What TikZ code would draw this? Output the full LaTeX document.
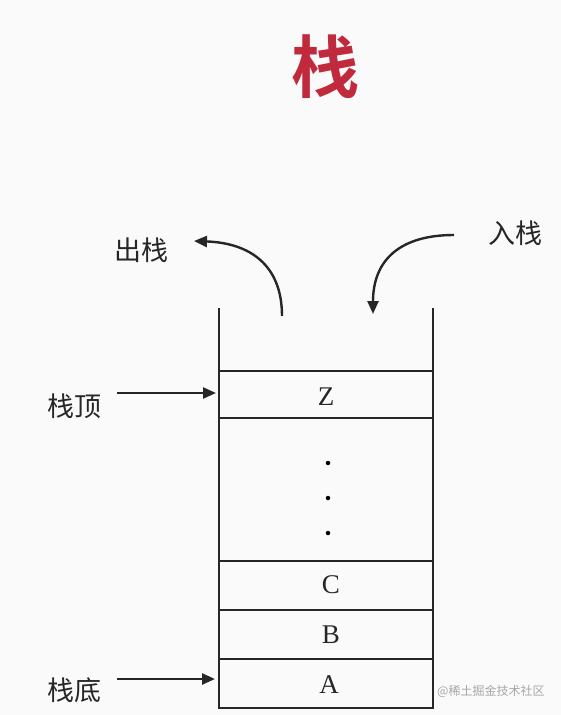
\documentclass[tikz,border=0pt]{standalone}
\usepackage{fontspec}
\setmainfont{Liberation Serif}
\newfontfamily\cjk{Noto Sans CJK SC}[BoldFont={Noto Sans CJK SC Bold}]
\usetikzlibrary{arrows.meta}
\definecolor{titlered}{HTML}{C02A3C}
\definecolor{bgc}{HTML}{FAFAFA}
\begin{document}
\begin{tikzpicture}[x=1pt,y=-1pt,
  wall/.style={line width=1.7pt,draw=black!85},
  sep/.style={line width=1.4pt,draw=black!85},
  lbl/.style={font=\cjk\fontsize{27}{27}\selectfont,text=black!85,inner sep=0pt},
  item/.style={font=\fontsize{27}{27}\selectfont,text=black!85,inner sep=0pt},
  arr/.style={line width=2.4pt,draw=black!85,-{Triangle[length=13pt,width=11pt]}},
  dot/.style={circle,fill=black,inner sep=0pt,minimum size=4.5pt}]
\fill[bgc] (0,0) rectangle (561,715);
\useasboundingbox (0,0) rectangle (561,715);
% title
\node[font=\cjk\bfseries\fontsize{68}{68}\selectfont,text=titlered,inner sep=0pt] (title) at (325,67) {栈};
% stack walls
\coordinate (lt) at (219,308);
\coordinate (rt) at (433,308);
\coordinate (lb) at (219,708);
\coordinate (rb) at (433,708);
\draw[wall] (lt) -- (lb) -- (rb) -- (rt);
\foreach \y in {371,418,561,610,659}{\draw[sep] (219,\y) -- (433,\y);}
% items
\node[item] (z) at (326,397) {Z};
\node[dot] (d1) at (328,463) {};
\node[dot] (d2) at (328,498) {};
\node[dot] (d3) at (328,533) {};
\node[item] (c) at (331,585) {C};
\node[item] (b) at (331,635) {B};
\node[item] (a) at (329,685) {A};
% labels
\node[lbl] (top) at (74,406) {栈顶};
\node[lbl] (bot) at (74,690) {栈底};
\node[lbl] (out) at (141,250) {出栈};
\node[lbl] (in) at (515,233) {入栈};
\coordinate (topend) at (216,393);
\coordinate (botend) at (215,679);
\draw[arr] (117,393) -- (topend);
\draw[arr] (117,679) -- (botend);
% curved arrows
\coordinate (outs) at (282,316);
\coordinate (oute) at (194,241);
\draw[arr] (outs) .. controls (282,265) and (250,243) .. (oute);
\coordinate (ins) at (454,235);
\coordinate (ine) at (373,314);
\draw[arr] (ins) .. controls (400,235) and (373,260) .. (ine);
% watermark
\node[font=\cjk\fontsize{12}{12}\selectfont,text=black!35,inner sep=0pt,anchor=west] (wm) at (437,691) {@稀土掘金技术社区};
\end{tikzpicture}
\end{document}
